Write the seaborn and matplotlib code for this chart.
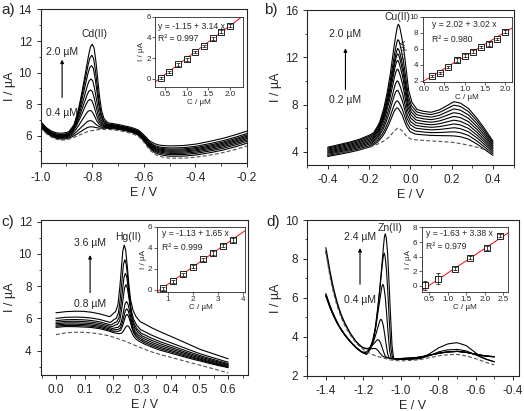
import numpy as np
import pandas as pd
import seaborn as sns
import matplotlib.pyplot as plt
from matplotlib.ticker import MultipleLocator

sns.set_style('ticks')
plt.rcParams['font.family'] = ['Liberation Sans', 'DejaVu Sans']
plt.rcParams['axes.unicode_minus'] = False

# ---------------- a) Cd(II) ----------------
cd_E = [-1.0, -0.98, -0.96, -0.94, -0.92, -0.90, -0.88, -0.86, -0.84, -0.82, -0.80, -0.78, -0.76, -0.74, -0.72, -0.70,
        -0.68, -0.66, -0.64, -0.62, -0.60, -0.58, -0.56, -0.54, -0.52, -0.50, -0.45, -0.40, -0.35, -0.30, -0.25, -0.20]
cd_blank = [6.5, 6.15, 5.92, 5.78, 5.72, 5.74, 5.83, 5.97, 6.12, 6.25, 6.33, 6.38, 6.40, 6.40, 6.37, 6.33,
            6.27, 6.2, 6.1, 5.95, 5.6, 5.15, 4.85, 4.7, 4.62, 4.58, 4.57, 4.63, 4.75, 4.9, 5.1, 5.35]
cd_low = [6.55, 6.2, 5.97, 5.83, 5.78, 5.8, 5.9, 6.04, 6.19, 6.32, 6.4, 6.45, 6.47, 6.47, 6.44, 6.4,
          6.34, 6.27, 6.17, 6.02, 5.68, 5.24, 4.95, 4.81, 4.74, 4.7, 4.7, 4.77, 4.9, 5.06, 5.27, 5.53]
cd_high = [6.9, 6.53, 6.30, 6.18, 6.15, 6.20, 6.33, 6.52, 6.67, 6.75, 6.81, 6.84, 6.85, 6.82, 6.77, 6.71,
           6.64, 6.57, 6.48, 6.35, 6.05, 5.70, 5.50, 5.40, 5.37, 5.35, 5.37, 5.46, 5.62, 5.80, 6.03, 6.30]
cd_frac = [0, 0.15, 0.27, 0.38, 0.48, 0.58, 0.68, 0.8, 1.0]
cd_peak_top = [6.55, 6.95, 7.6, 8.3, 8.9, 9.6, 10.45, 11.1, 11.8]
cd_peak_pos = [-0.812, -0.811, -0.81, -0.809, -0.807, -0.805, -0.803, -0.802, -0.8]
cd_shape_dx = [-0.09, -0.07, -0.055, -0.045, -0.035, -0.025, -0.015, -0.007, 0, 0.007, 0.014, 0.021, 0.028, 0.036, 0.045, 0.06]
cd_shape = [0, 0.06, 0.2, 0.34, 0.5, 0.68, 0.86, 0.97, 1.0, 0.95, 0.78, 0.55, 0.33, 0.15, 0.05, 0]
cd_conc = [0.4, 0.6, 0.8, 1.0, 1.2, 1.4, 1.6, 1.8, 2.0]
cd_current = [0.05, 0.7, 1.4, 1.9, 2.6, 3.2, 3.9, 4.55, 5.15]
cd_err = [0.1, 0.1, 0.12, 0.15, 0.12, 0.1, 0.12, 0.12, 0.1]

# ---------------- b) Cu(II) ----------------
cu_E = [-0.40, -0.35, -0.30, -0.25, -0.20, -0.16, -0.13, -0.10, -0.08, -0.06, -0.04, -0.02,
        0.00, 0.03, 0.06, 0.10, 0.14, 0.18, 0.21, 0.24, 0.28, 0.32, 0.36, 0.40]
cu_blank = [3.8, 3.9, 4.05, 4.22, 4.4, 4.65, 4.9, 5.3, 5.75, 6.05, 5.8, 5.35,
            5.1, 5.02, 4.98, 4.94, 4.9, 4.85, 4.8, 4.72, 4.58, 4.42, 4.22, 3.95]
cu_low = [3.62, 3.78, 3.95, 4.15, 4.4, 4.7, 5.0, 5.5, 5.95, 6.2, 6.1, 5.85,
          5.6, 5.5, 5.45, 5.4, 5.38, 5.38, 5.36, 5.3, 5.1, 4.7, 4.2, 3.7]
cu_high = [4.4, 4.6, 4.8, 5.05, 5.4, 5.8, 6.3, 7.0, 7.6, 8.0, 8.0, 7.9,
           7.78, 7.6, 7.45, 7.35, 7.55, 7.95, 8.25, 8.15, 7.7, 6.9, 5.95, 4.9]
cu_frac = [0, 0.12, 0.24, 0.35, 0.46, 0.57, 0.68, 0.79, 0.9, 1.0]
cu_peak_top = [7.7, 8.3, 9.2, 10.0, 11.0, 11.75, 12.3, 12.75, 13.5, 14.8]
cu_peak_pos = [-0.068, -0.067, -0.066, -0.065, -0.064, -0.063, -0.062, -0.061, -0.06, -0.058]
cu_shape_dx = [-0.12, -0.09, -0.07, -0.055, -0.04, -0.028, -0.015, -0.006, 0, 0.006, 0.015, 0.028, 0.04, 0.05, 0.065, 0.09]
cu_shape = [0, 0.08, 0.2, 0.33, 0.5, 0.68, 0.86, 0.97, 1.0, 0.97, 0.86, 0.66, 0.4, 0.2, 0.07, 0]
cu_conc = [0.2, 0.4, 0.6, 0.8, 1.0, 1.2, 1.4, 1.6, 1.8, 2.0]
cu_current = [2.6, 2.95, 3.7, 4.6, 5.15, 5.65, 6.2, 6.6, 7.25, 8.15]
cu_err = [0.15, 0.15, 0.15, 0.2, 0.15, 0.15, 0.15, 0.2, 0.15, 0.2]

# ---------------- c) Hg(II) ----------------
hg_E = [0.0, 0.03, 0.06, 0.09, 0.12, 0.15, 0.18, 0.20, 0.22, 0.24, 0.26, 0.28, 0.30, 0.33, 0.36, 0.40, 0.45, 0.50, 0.55, 0.60]
hg_blank = [5.0, 5.1, 5.15, 5.15, 5.12, 5.05, 4.95, 4.85, 4.72, 4.6, 4.45, 4.3, 4.15, 3.95, 3.78, 3.6, 3.35, 3.12, 2.88, 2.62]
hg_low = [5.45, 5.5, 5.5, 5.48, 5.45, 5.38, 5.25, 5.12, 5.0, 4.9, 4.78, 4.62, 4.48, 4.25, 4.05, 3.85, 3.6, 3.38, 3.15, 2.95]
hg_high = [6.35, 6.42, 6.45, 6.45, 6.4, 6.3, 6.15, 6.05, 6.1, 6.1, 6.05, 5.9, 5.75, 5.45, 5.2, 4.9, 4.5, 4.1, 3.8, 3.5]
hg_frac = [0, 0.08, 0.16, 0.25, 0.35, 0.46, 0.62, 1.0]
hg_peak_top = [5.55, 6.25, 6.6, 7.05, 8.1, 8.8, 9.65, 10.55]
hg_peak_pos = [0.25, 0.248, 0.247, 0.246, 0.244, 0.242, 0.24, 0.238]
hg_shape_dx = [-0.05, -0.038, -0.03, -0.022, -0.016, -0.01, -0.005, 0, 0.005, 0.01, 0.016, 0.022, 0.03, 0.04, 0.055]
hg_shape = [0, 0.06, 0.08, 0.17, 0.38, 0.68, 0.92, 1.0, 0.93, 0.74, 0.45, 0.25, 0.12, 0.05, 0]
hg_conc = [0.8, 1.2, 1.6, 2.0, 2.4, 2.8, 3.2, 3.6]
hg_current = [0.15, 0.8, 1.5, 2.2, 2.9, 3.5, 4.2, 4.75]
hg_err = [0.15, 0.15, 0.15, 0.15, 0.15, 0.15, 0.15, 0.2]

# ---------------- d) Zn(II) ----------------
zn_E = [-1.40, -1.38, -1.36, -1.34, -1.32, -1.30, -1.27, -1.24, -1.21, -1.18, -1.15, -1.12, -1.09,
        -1.06, -1.03, -1.00, -0.95, -0.90, -0.85, -0.80, -0.75, -0.70, -0.65, -0.60, -0.55, -0.50]
zn_blank = [8.4, 7.2, 6.3, 5.6, 5.05, 4.6, 4.1, 3.7, 3.42, 3.22, 3.08, 2.98, 2.9,
            2.82, 2.78, 2.76, 2.78, 2.82, 2.92, 3.02, 3.08, 3.1, 3.02, 2.88, 2.7, 2.55]
zn_low = [6.1, 5.55, 5.1, 4.7, 4.38, 4.1, 3.75, 3.45, 3.22, 3.08, 3.02, 2.98, 2.93,
          2.88, 2.87, 2.88, 2.9, 2.95, 3.05, 3.15, 3.22, 3.25, 3.2, 3.1, 3.02, 2.98]
zn_high = [8.65, 7.5, 6.55, 5.8, 5.2, 4.75, 4.2, 3.78, 3.48, 3.28, 3.15, 3.05, 2.97,
           2.9, 2.86, 2.84, 2.84, 2.86, 3.0, 3.2, 3.3, 3.32, 3.25, 3.05, 2.85, 2.7]
zn_hump = [0, 0, 0, 0, 0, 0, 0, 0, 0, 0, 0, 0, 0,
           0, 0, 0, 0, 0.03, 0.1, 0.22, 0.33, 0.38, 0.3, 0.12, 0.02, 0]
zn_hump_amp = [1.0, 0.1, 0, 0, 0, 0]
zn_frac = [1.0, 0.93, 0.06, 0.04, 0.02, 0.0]
zn_peak_top = [3.4, 3.85, 4.9, 6.7, 8.3, 9.3]
zn_peak_pos = [-1.135, -1.12, -1.105, -1.095, -1.088, -1.082]
zn_shape_dx = [-0.1, -0.08, -0.065, -0.05, -0.04, -0.032, -0.022, -0.012, -0.005, 0, 0.005, 0.012, 0.018, 0.023, 0.03, 0.036, 0.045]
zn_shape = [0, 0.05, 0.12, 0.24, 0.38, 0.5, 0.68, 0.86, 0.97, 1.0, 0.97, 0.85, 0.68, 0.5, 0.28, 0.1, 0]
zn_conc = [0.4, 0.75, 1.2, 1.6, 2.05, 2.4]
zn_current = [0.05, 1.0, 2.35, 3.85, 5.15, 6.85]
zn_err = [0.65, 0.8, 0.2, 0.2, 0.25, 0.2]


def smooth(y, n=9):
    return np.convolve(np.pad(y, n // 2, mode='edge'), np.ones(n) / n, mode='valid')


def build_curves(E, low, high, fracs, tops, centers, dx, shape, hump=None, hump_amp=None):
    grid = np.linspace(E[0], E[-1], 800)
    lo = smooth(np.interp(grid, E, low))
    hi = smooth(np.interp(grid, E, high))
    frames = []
    for i, (f, top, c) in enumerate(zip(fracs, tops, centers)):
        base = lo + f * (hi - lo)
        if hump is not None:
            base = base + hump_amp[i] * smooth(np.interp(grid, E, hump))
        amp = top - np.interp(c, grid, base)
        y = base + amp * np.interp(grid - c, dx, shape, left=0, right=0)
        frames.append(pd.DataFrame({'E': grid, 'I': y, 'curve': i}))
    return grid, pd.concat(frames)


def px_rect(l, r, t, b):
    return [l / 524, 1 - b / 411, (r - l) / 524, (b - t) / 411]


def draw_main(ax, E, blank, curves, grid):
    sns.lineplot(data=curves, x='E', y='I', units='curve', estimator=None,
                 color='black', linewidth=0.8, legend=False, ax=ax)
    sns.lineplot(x=grid, y=smooth(np.interp(grid, E, blank)), color='#505050',
                 linewidth=0.8, linestyle=(0, (3.5, 2)), ax=ax)
    ax.set_xlabel('E / V', fontsize=9, labelpad=2)
    ax.set_ylabel('I / µA', fontsize=9, labelpad=2)
    ax.tick_params(labelsize=8.5, length=3, width=0.7, direction='out')
    ax.tick_params(which='minor', length=1.8, width=0.6)
    for s in ax.spines.values():
        s.set_linewidth(0.8)


def draw_inset(rect, conc, current, err, icpt, slope, xlim, ylim, xstep, ystep, texty, textx, eq, r2):
    ax = fig.add_axes(rect)
    xs = np.linspace(xlim[0], xlim[1], 50)
    sns.lineplot(x=xs, y=icpt + slope * xs, color='red', linewidth=0.7, ax=ax)
    sns.scatterplot(x=conc, y=current, marker='s', s=18, color='white', edgecolor='black',
                    linewidth=0.6, zorder=3, ax=ax)
    ax.errorbar(conc, current, yerr=err, fmt='none', ecolor='black', elinewidth=0.5,
                capsize=1.2, capthick=0.5, zorder=4)
    ax.set_xlim(*xlim)
    ax.set_ylim(*ylim)
    ax.xaxis.set_major_locator(MultipleLocator(xstep))
    ax.yaxis.set_major_locator(MultipleLocator(ystep))
    ax.tick_params(labelsize=5.8, length=2, width=0.5, pad=1)
    ax.set_xlabel('C / µM', fontsize=5.8, labelpad=0.5)
    ax.set_ylabel('I / µA', fontsize=5.8, labelpad=1)
    for s in ax.spines.values():
        s.set_linewidth(0.6)
    ax.text(textx, texty[0], eq, transform=ax.transAxes, fontsize=6.2, va='center')
    ax.text(textx, texty[1], r2, transform=ax.transAxes, fontsize=6.2, va='center')
    return ax


def label_arrow(ax, x, y0, y1, top_txt, top_y, bot_txt, bot_y, ion, ion_x, ion_y):
    ax.annotate('', xy=(x, y1), xytext=(x, y0),
                arrowprops=dict(arrowstyle='-|>', color='black', lw=0.8, mutation_scale=5))
    ax.text(x, top_y, top_txt, fontsize=7.5, ha='center', va='center')
    ax.text(x, bot_y, bot_txt, fontsize=7.5, ha='center', va='center')
    ax.text(ion_x, ion_y, ion, fontsize=7.5, ha='center', va='center')


fig = plt.figure(figsize=(5.24, 4.11), dpi=100)

# a) Cd
ax_a = fig.add_axes(px_rect(40.7, 247, 9.5, 163.3))
grid, df = build_curves(cd_E, cd_low, cd_high, cd_frac, cd_peak_top, cd_peak_pos, cd_shape_dx, cd_shape)
draw_main(ax_a, cd_E, cd_blank, df, grid)
ax_a.set_xlim(-1.0, -0.2)
ax_a.set_ylim(4.25, 14)
ax_a.xaxis.set_major_locator(MultipleLocator(0.2))
ax_a.xaxis.set_minor_locator(MultipleLocator(0.1))
ax_a.yaxis.set_major_locator(MultipleLocator(2))
ax_a.yaxis.set_minor_locator(MultipleLocator(1))
label_arrow(ax_a, -0.917, 8.25, 11.0, '2.0 µM', 11.3, '0.4 µM', 7.45, 'Cd(II)', -0.79, 12.45)
draw_inset(px_rect(155, 243, 16.7, 86.7), cd_conc, cd_current, cd_err, -1.15, 3.14,
           (0.27, 2.3), (-0.75, 6), 0.5, 2, (0.86, 0.69), 0.03, 'y = -1.15 + 3.14 x', 'R² = 0.997')

# b) Cu
ax_b = fig.add_axes(px_rect(307, 513.7, 10, 165))
grid, df = build_curves(cu_E, cu_low, cu_high, cu_frac, cu_peak_top, cu_peak_pos, cu_shape_dx, cu_shape)
draw_main(ax_b, cu_E, cu_blank, df, grid)
ax_b.set_xlim(-0.5, 0.5)
ax_b.set_ylim(2.9, 16)
ax_b.xaxis.set_major_locator(MultipleLocator(0.2))
ax_b.xaxis.set_minor_locator(MultipleLocator(0.1))
ax_b.yaxis.set_major_locator(MultipleLocator(4))
ax_b.yaxis.set_minor_locator(MultipleLocator(2))
label_arrow(ax_b, -0.314, 9.05, 13.0, '2.0 µM', 13.93, '0.2 µM', 8.4, 'Cu(II)', -0.06, 15.4)
draw_inset(px_rect(422.7, 511.7, 16.7, 81.7), cu_conc, cu_current, cu_err, 2.02, 3.02,
           (-0.04, 2.17), (1.9, 10), 0.5, 2, (0.88, 0.65), 0.1, 'y = 2.02 + 3.02 x', 'R² = 0.980')

# c) Hg
ax_c = fig.add_axes(px_rect(40.7, 248.3, 220, 375))
grid, df = build_curves(hg_E, hg_low, hg_high, hg_frac, hg_peak_top, hg_peak_pos, hg_shape_dx, hg_shape)
draw_main(ax_c, hg_E, hg_blank, df, grid)
ax_c.set_xlim(-0.053, 0.67)
ax_c.set_ylim(2.5, 12.1)
ax_c.xaxis.set_major_locator(MultipleLocator(0.1))
ax_c.xaxis.set_minor_locator(MultipleLocator(0.05))
ax_c.yaxis.set_major_locator(MultipleLocator(2))
ax_c.yaxis.set_minor_locator(MultipleLocator(1))
label_arrow(ax_c, 0.119, 7.43, 10.1, '3.6 µM', 10.7, '0.8 µM', 6.9, 'Hg(II)', 0.252, 11.04)
draw_inset(px_rect(156.7, 245, 226.7, 292), hg_conc, hg_current, hg_err, -1.13, 1.65,
           (0.56, 4.09), (-0.2, 6), 1, 2, (0.89, 0.68), 0.06, 'y = -1.13 + 1.65 x', 'R² = 0.999')

# d) Zn
ax_d = fig.add_axes(px_rect(307, 518.7, 220, 375.7))
grid, df = build_curves(zn_E, zn_low, zn_high, zn_frac, zn_peak_top, zn_peak_pos, zn_shape_dx, zn_shape,
                        hump=zn_hump, hump_amp=zn_hump_amp)
draw_main(ax_d, zn_E, zn_blank, df, grid)
ax_d.set_xlim(-1.5, -0.37)
ax_d.set_ylim(2, 10)
ax_d.xaxis.set_major_locator(MultipleLocator(0.2))
ax_d.xaxis.set_minor_locator(MultipleLocator(0.1))
ax_d.yaxis.set_major_locator(MultipleLocator(2))
ax_d.yaxis.set_minor_locator(MultipleLocator(1))
label_arrow(ax_d, -1.217, 6.56, 8.7, '2.4 µM', 9.14, '0.4 µM', 5.88, 'Zn(II)', -1.054, 9.57)
draw_inset(px_rect(421.7, 508.3, 226.7, 291.7), zn_conc, zn_current, zn_err, -1.63, 3.38,
           (0.3, 2.63), (-0.8, 8.1), 0.5, 2, (0.89, 0.7), 0.05, 'y = -1.63 + 3.38 x', 'R² = 0.979')

# panel letters
for lbl, x, y in [('a)', 1, 10), ('b)', 264, 10), ('c)', 1, 222), ('d)', 266, 222)]:
    fig.text(x / 524, 1 - y / 411, lbl, fontsize=11, va='center', ha='left')

fig.savefig('out.png', dpi=100, facecolor='white')
